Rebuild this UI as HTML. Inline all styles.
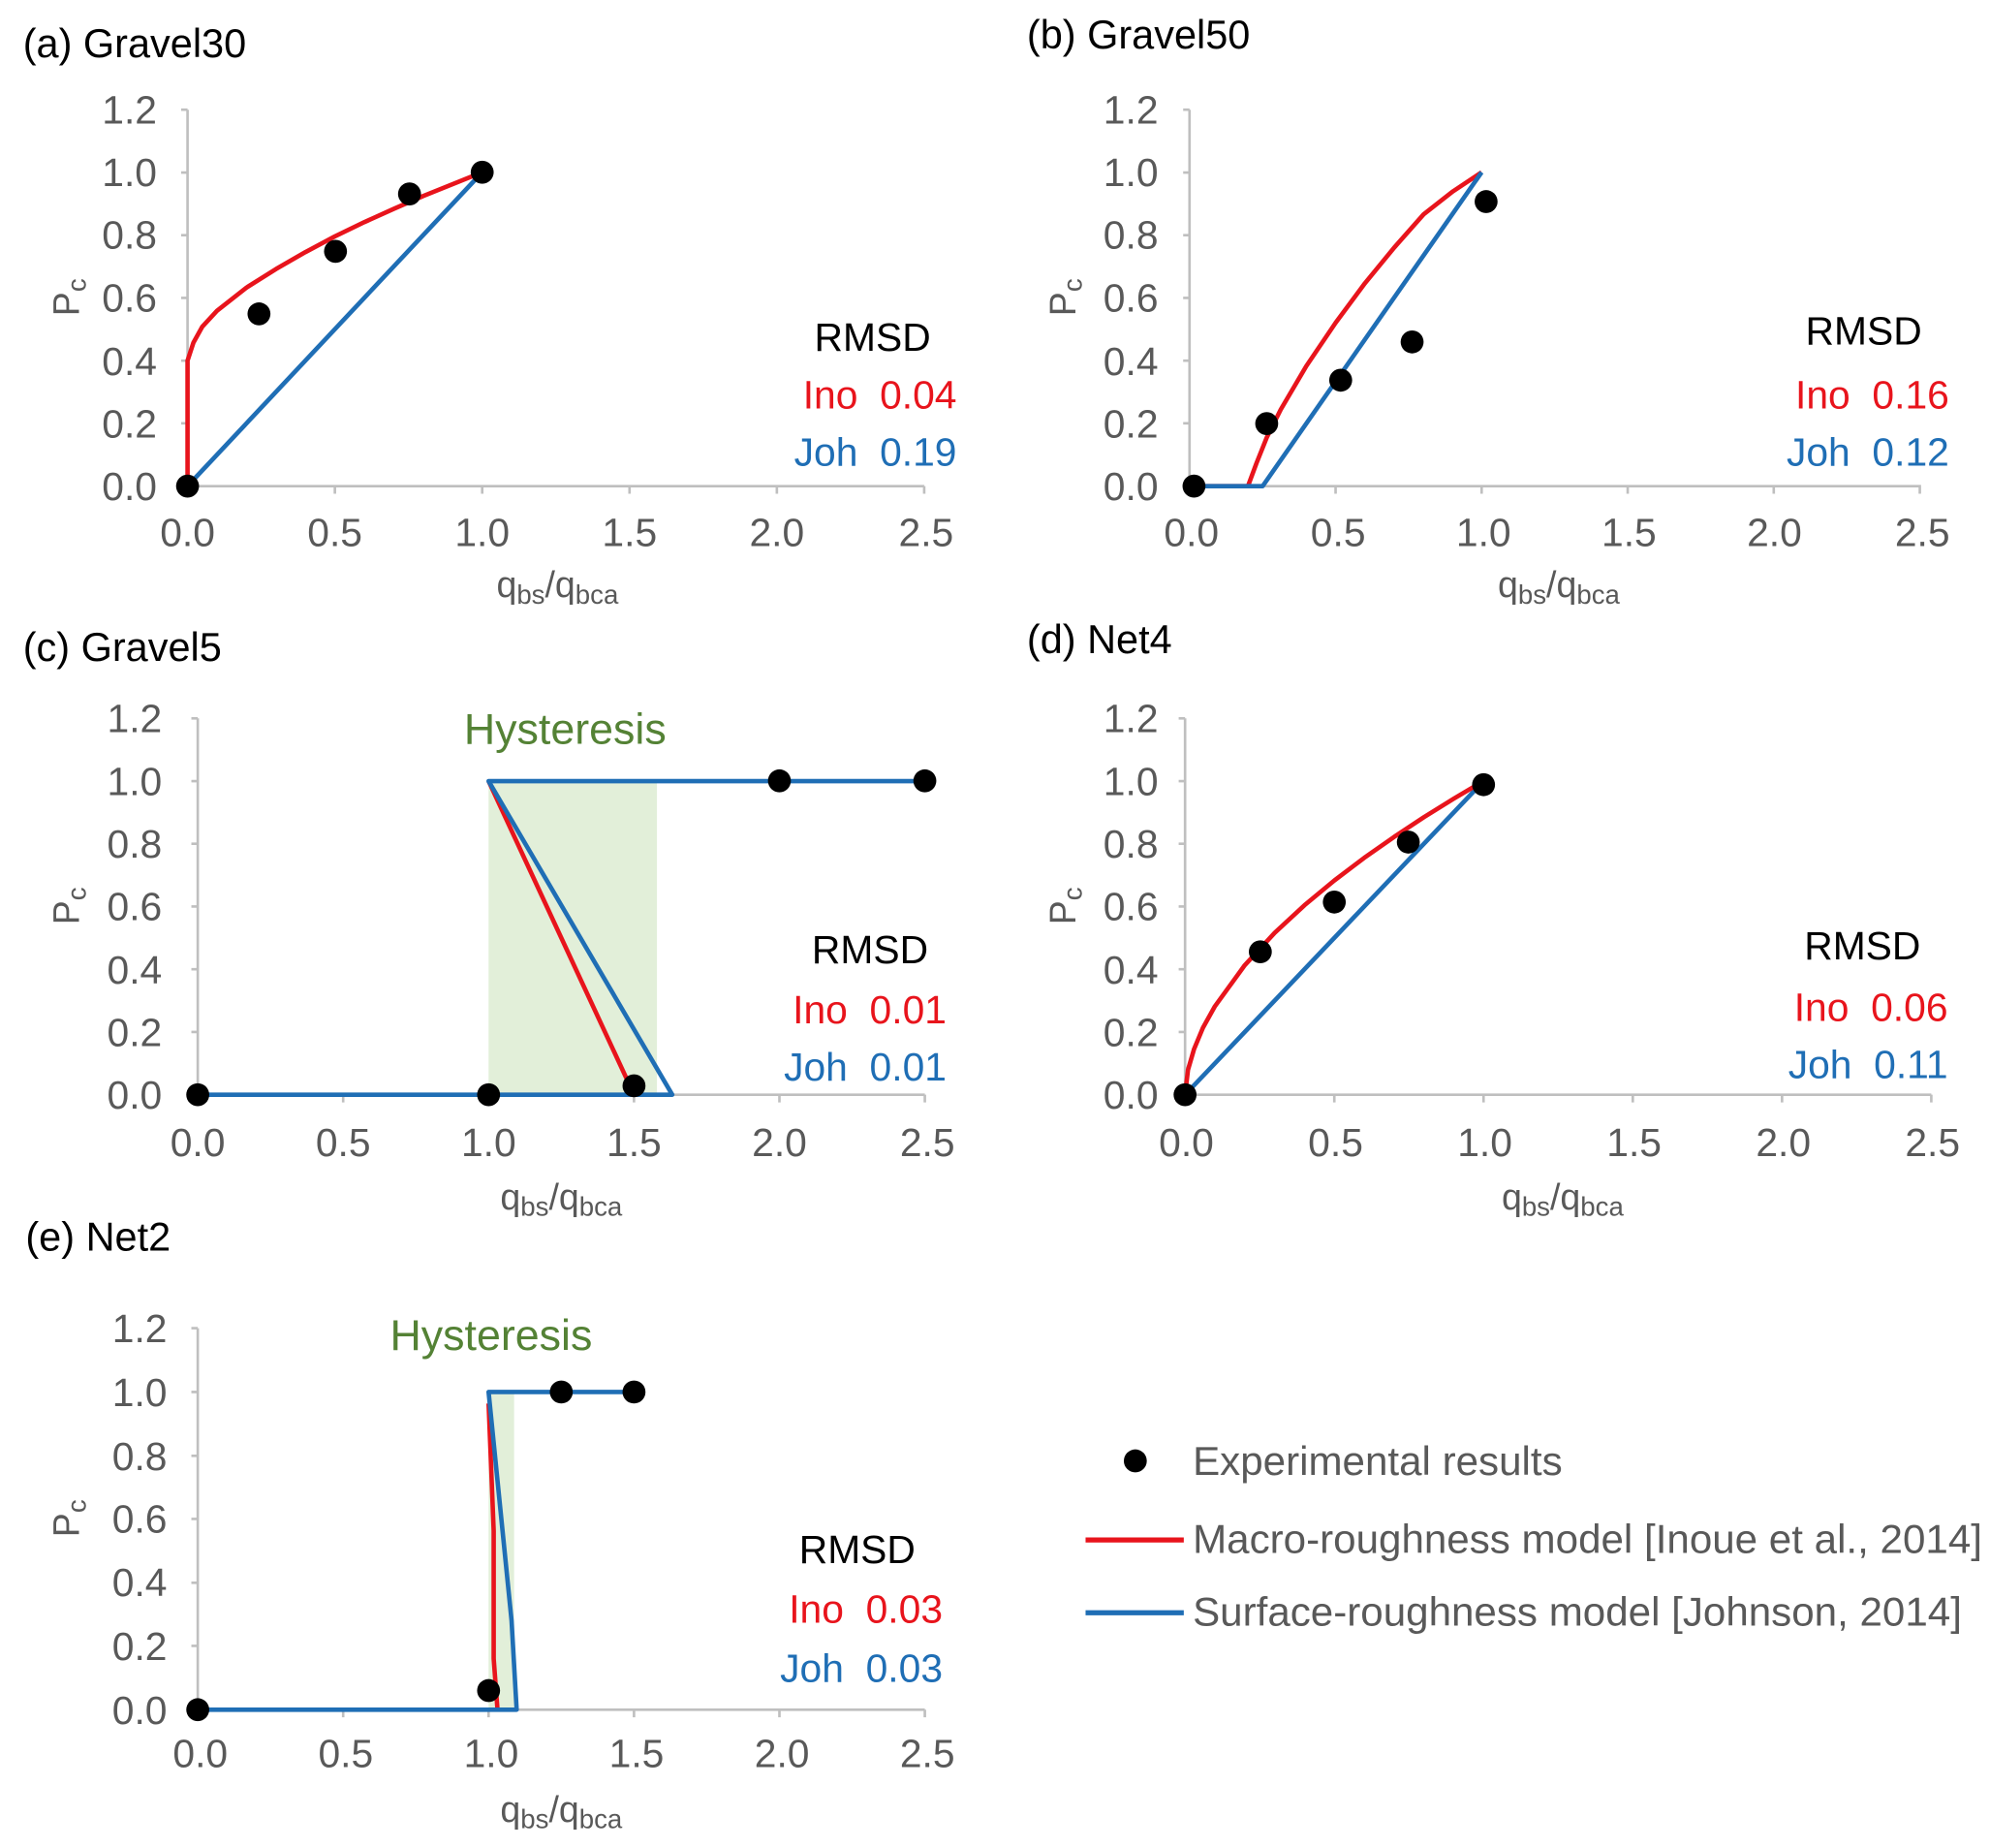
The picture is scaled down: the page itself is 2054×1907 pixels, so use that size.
<!DOCTYPE html>
<html><head><meta charset="utf-8"><style>
html,body{margin:0;padding:0;background:#fff;}
svg{display:block;}
text{font-family:"Liberation Sans",Arial,sans-serif;}
.t{font-size:31px;fill:#595959;}
.lg{font-size:32px;fill:#595959;}
.ti{font-size:31.5px;fill:#000;}
.ax{stroke:#bfbfbf;stroke-width:2;fill:none;}
.r{stroke:#e8141c;stroke-width:3.5;fill:none;stroke-linejoin:round;}
.b{stroke:#1f6eb5;stroke-width:3.5;fill:none;stroke-linejoin:round;}
.rm{font-size:31px;fill:#000;}
.ino{font-size:31px;fill:#e8141c;}
.joh{font-size:31px;fill:#1f6eb5;}
.lab{font-size:28.5px;fill:#595959;}
.hy{font-size:34px;fill:#548235;}
</style></head><body>
<svg width="2054" height="1907" viewBox="0 0 1560 1448.4" xmlns="http://www.w3.org/2000/svg">

<!-- Panel a -->
<text x="18" y="45" class="ti">(a) Gravel30</text>
<g>
<path class="ax" d="M147,86V381H724.5M142,86H147M142,135.2H147M142,184.3H147M142,233.5H147M142,282.7H147M142,331.8H147M142,381H147M262.5,381v6M378,381v6M493.5,381v6M609,381v6M724.5,381v6"/>
<g class="t" text-anchor="end"><text x="123" y="97">1.2</text><text x="123" y="146">1.0</text><text x="123" y="195">0.8</text><text x="123" y="244">0.6</text><text x="123" y="294">0.4</text><text x="123" y="343">0.2</text><text x="123" y="392">0.0</text></g>
<g class="t" text-anchor="middle"><text x="147" y="428">0.0</text><text x="262.5" y="428">0.5</text><text x="378" y="428">1.0</text><text x="493.5" y="428">1.5</text><text x="609" y="428">2.0</text><text x="726" y="428">2.5</text></g>
<text class="lab" x="437" y="468" text-anchor="middle">q<tspan font-size="21" dy="5">bs</tspan><tspan dy="-5">/q</tspan><tspan font-size="21" dy="5">bca</tspan></text>
<text class="lab" transform="translate(62,233) rotate(-90)" text-anchor="middle">P<tspan font-size="21" dy="5">c</tspan></text>
<polyline class="b" points="147,381 378,135"/>
<polyline class="r" points="147,381 147,282.7 151.6,268.6 158.6,256 170.1,243.6 193.2,225.4 216.3,210.9 239.4,197.6 262.5,185.3 285.6,174.1 308.7,163.7 331.8,153.6 354.9,144.3 378,135"/>
<g fill="#000"><circle cx="147" cy="381" r="9"/><circle cx="203" cy="246" r="9"/><circle cx="263" cy="197" r="9"/><circle cx="321" cy="152" r="9"/><circle cx="378" cy="135" r="9"/></g>
<text class="rm" x="684" y="275" text-anchor="middle">RMSD</text>
<text class="ino" x="750" y="320" text-anchor="end">Ino&#160;&#160;0.04</text>
<text class="joh" x="750" y="365" text-anchor="end">Joh&#160;&#160;0.19</text>
</g>

<!-- Panel b -->
<text x="805" y="38" class="ti">(b) Gravel50</text>
<g>
<path class="ax" d="M932.5,86V381H1506M927.5,86H932.5M927.5,135.2H932.5M927.5,184.3H932.5M927.5,233.5H932.5M927.5,282.7H932.5M927.5,331.8H932.5M927.5,381H932.5M1047,381v6M1161.5,381v6M1276,381v6M1390.5,381v6M1505,381v6"/>
<g class="t" text-anchor="end"><text x="908" y="97">1.2</text><text x="908" y="146">1.0</text><text x="908" y="195">0.8</text><text x="908" y="244">0.6</text><text x="908" y="294">0.4</text><text x="908" y="343">0.2</text><text x="908" y="392">0.0</text></g>
<g class="t" text-anchor="middle"><text x="934" y="428">0.0</text><text x="1049" y="428">0.5</text><text x="1163" y="428">1.0</text><text x="1277" y="428">1.5</text><text x="1391" y="428">2.0</text><text x="1507" y="428">2.5</text></g>
<text class="lab" x="1222" y="468" text-anchor="middle">q<tspan font-size="21" dy="5">bs</tspan><tspan dy="-5">/q</tspan><tspan font-size="21" dy="5">bca</tspan></text>
<text class="lab" transform="translate(843,233) rotate(-90)" text-anchor="middle">P<tspan font-size="21" dy="5">c</tspan></text>
<polyline class="r" points="932.5,381 978.3,381 985,363 993,343 1004,321 1024,287 1047,253 1070,222 1093,194 1116,168 1139,150 1161.5,135"/>
<polyline class="b" points="932.5,381 989.8,381 1161.5,135"/>
<g fill="#000"><circle cx="936" cy="381" r="9"/><circle cx="993" cy="332" r="9"/><circle cx="1051" cy="298" r="9"/><circle cx="1107" cy="268" r="9"/><circle cx="1165" cy="158" r="9"/></g>
<text class="rm" x="1461" y="270" text-anchor="middle">RMSD</text>
<text class="ino" x="1528" y="320" text-anchor="end">Ino&#160;&#160;0.16</text>
<text class="joh" x="1528" y="365" text-anchor="end">Joh&#160;&#160;0.12</text>
</g>

<!-- Panel c -->
<text x="18" y="518" class="ti">(c) Gravel5</text>
<g>
<rect x="383" y="612.2" width="132" height="245.8" fill="#e2efd9"/>
<path class="ax" d="M155,563V858H725M150,563H155M150,612.2H155M150,661.3H155M150,710.5H155M150,759.7H155M150,808.8H155M150,858H155M269,858v6M383,858v6M497,858v6M611,858v6M725,858v6"/>
<g class="t" text-anchor="end"><text x="127" y="574">1.2</text><text x="127" y="623">1.0</text><text x="127" y="672">0.8</text><text x="127" y="721">0.6</text><text x="127" y="771">0.4</text><text x="127" y="820">0.2</text><text x="127" y="869">0.0</text></g>
<g class="t" text-anchor="middle"><text x="155" y="906">0.0</text><text x="269" y="906">0.5</text><text x="383" y="906">1.0</text><text x="497" y="906">1.5</text><text x="611" y="906">2.0</text><text x="727" y="906">2.5</text></g>
<text class="lab" x="440" y="948" text-anchor="middle">q<tspan font-size="21" dy="5">bs</tspan><tspan dy="-5">/q</tspan><tspan font-size="21" dy="5">bca</tspan></text>
<text class="lab" transform="translate(62,710) rotate(-90)" text-anchor="middle">P<tspan font-size="21" dy="5">c</tspan></text>
<text class="hy" x="443" y="583" text-anchor="middle">Hysteresis</text>
<polyline class="r" points="383,612.2 491,845 498,858"/>
<polyline class="b" points="155,858 527,858 383,612.2 725,612.2"/>
<g fill="#000"><circle cx="155" cy="858" r="9"/><circle cx="383" cy="858" r="9"/><circle cx="497" cy="851" r="9"/><circle cx="611" cy="612" r="9"/><circle cx="725" cy="612" r="9"/></g>
<text class="rm" x="682" y="755" text-anchor="middle">RMSD</text>
<text class="ino" x="742" y="802" text-anchor="end">Ino&#160;&#160;0.01</text>
<text class="joh" x="742" y="847" text-anchor="end">Joh&#160;&#160;0.01</text>
</g>

<!-- Panel d -->
<text x="805" y="512" class="ti">(d) Net4</text>
<g>
<path class="ax" d="M929,563V858H1514M924,563H929M924,612.2H929M924,661.3H929M924,710.5H929M924,759.7H929M924,808.8H929M924,858H929M1046,858v6M1163,858v6M1280,858v6M1397,858v6M1514,858v6"/>
<g class="t" text-anchor="end"><text x="908" y="574">1.2</text><text x="908" y="623">1.0</text><text x="908" y="672">0.8</text><text x="908" y="721">0.6</text><text x="908" y="771">0.4</text><text x="908" y="820">0.2</text><text x="908" y="869">0.0</text></g>
<g class="t" text-anchor="middle"><text x="930" y="906">0.0</text><text x="1047" y="906">0.5</text><text x="1164" y="906">1.0</text><text x="1281" y="906">1.5</text><text x="1398" y="906">2.0</text><text x="1515" y="906">2.5</text></g>
<text class="lab" x="1225" y="948" text-anchor="middle">q<tspan font-size="21" dy="5">bs</tspan><tspan dy="-5">/q</tspan><tspan font-size="21" dy="5">bca</tspan></text>
<text class="lab" transform="translate(843,710) rotate(-90)" text-anchor="middle">P<tspan font-size="21" dy="5">c</tspan></text>
<polyline class="b" points="929,858 1163,612.2"/>
<polyline class="r" points="929,858 931.3,838.5 936,822.4 943,805.6 952.4,788.7 975.8,756.5 999.2,731.2 1022.6,709.5 1046,690.1 1069.4,672.4 1092.8,656 1116.2,640.5 1139.6,626 1163,612.2"/>
<g fill="#000"><circle cx="929" cy="858" r="9"/><circle cx="988" cy="746" r="9"/><circle cx="1046" cy="707" r="9"/><circle cx="1104" cy="660" r="9"/><circle cx="1163" cy="615" r="9"/></g>
<text class="rm" x="1460" y="752" text-anchor="middle">RMSD</text>
<text class="ino" x="1527" y="800" text-anchor="end">Ino&#160;&#160;0.06</text>
<text class="joh" x="1527" y="845" text-anchor="end">Joh&#160;&#160;0.11</text>
</g>

<!-- Panel e -->
<text x="20" y="980" class="ti">(e) Net2</text>
<g>
<rect x="383" y="1091" width="20" height="249" fill="#e2efd9"/>
<path class="ax" d="M155,1041V1340H725M150,1041H155M150,1091H155M150,1141H155M150,1190.5H155M150,1240.5H155M150,1290H155M150,1340H155M269,1340v6M383,1340v6M497,1340v6M611,1340v6M725,1340v6"/>
<g class="t" text-anchor="end"><text x="131" y="1052">1.2</text><text x="131" y="1102">1.0</text><text x="131" y="1152">0.8</text><text x="131" y="1201">0.6</text><text x="131" y="1251">0.4</text><text x="131" y="1301">0.2</text><text x="131" y="1351">0.0</text></g>
<g class="t" text-anchor="middle"><text x="157" y="1385">0.0</text><text x="271" y="1385">0.5</text><text x="385" y="1385">1.0</text><text x="499" y="1385">1.5</text><text x="613" y="1385">2.0</text><text x="727" y="1385">2.5</text></g>
<text class="lab" x="440" y="1428" text-anchor="middle">q<tspan font-size="21" dy="5">bs</tspan><tspan dy="-5">/q</tspan><tspan font-size="21" dy="5">bca</tspan></text>
<text class="lab" transform="translate(62,1190) rotate(-90)" text-anchor="middle">P<tspan font-size="21" dy="5">c</tspan></text>
<text class="hy" x="385" y="1058" text-anchor="middle">Hysteresis</text>
<polyline class="r" points="383,1100 387,1200 387,1300 390,1340"/>
<polyline class="b" points="155,1340 405,1340 401,1270 383,1091 497,1091"/>
<g fill="#000"><circle cx="155" cy="1340" r="9"/><circle cx="383" cy="1325" r="9"/><circle cx="440" cy="1091" r="9"/><circle cx="497" cy="1091" r="9"/></g>
<text class="rm" x="672" y="1225" text-anchor="middle">RMSD</text>
<text class="ino" x="739" y="1272" text-anchor="end">Ino&#160;&#160;0.03</text>
<text class="joh" x="739" y="1318" text-anchor="end">Joh&#160;&#160;0.03</text>
</g>

<!-- Legend -->
<circle cx="890" cy="1145" r="9" fill="#000"/>
<text class="lg" x="935" y="1156">Experimental results</text>
<line x1="851" y1="1207" x2="928" y2="1207" stroke="#e8141c" stroke-width="4"/>
<text class="lg" x="935" y="1217">Macro-roughness model [Inoue et al., 2014]</text>
<line x1="851" y1="1264" x2="928" y2="1264" stroke="#1f6eb5" stroke-width="4"/>
<text class="lg" x="935" y="1274">Surface-roughness model [Johnson, 2014]</text>
</svg>
</body></html>
